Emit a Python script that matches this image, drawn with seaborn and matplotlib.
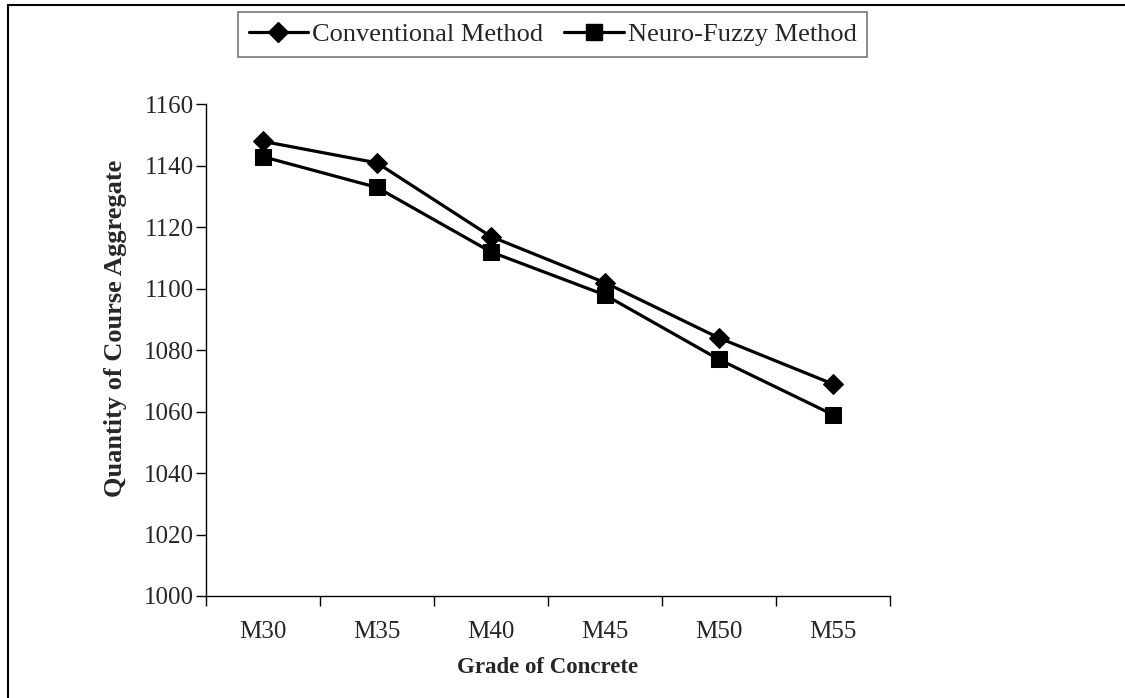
import matplotlib
matplotlib.use("Agg")
import matplotlib.pyplot as plt
import seaborn as sns
import pandas as pd
from matplotlib.lines import Line2D

grades = ["M30", "M35", "M40", "M45", "M50", "M55"]
conventional = [1148, 1141, 1117, 1102, 1084, 1069]
neuro_fuzzy = [1143, 1133, 1112, 1098, 1077, 1059]
series_names = ["Conventional Method", "Neuro-Fuzzy Method"]
y_ticks = [1000, 1020, 1040, 1060, 1080, 1100, 1120, 1140, 1160]

df = pd.DataFrame({
    "Grade": grades * 2,
    "Value": conventional + neuro_fuzzy,
    "Method": [series_names[0]] * len(grades) + [series_names[1]] * len(grades),
})
df["pos"] = [grades.index(g) for g in df["Grade"]]

sns.set_theme(style="white")
plt.rcParams["font.family"] = ["Liberation Serif", "DejaVu Serif"]

fig = plt.figure(figsize=(11.25, 6.98), dpi=100)
ax = fig.add_axes([206 / 1125, 1 - 596 / 698, (890 - 206) / 1125, (596 - 104.5) / 698])

sns.lineplot(data=df, x="pos", y="Value", hue="Method", style="Method",
             palette=["black", "black"], markers=["D", "s"], dashes=False,
             linewidth=2.3, markersize=11, markeredgecolor="black",
             ax=ax, legend=False)
for line, ms in zip(ax.lines, [10, 12]):
    line.set_markersize(ms)

ax.set_xlim(-0.5, len(grades) - 0.5)
ax.set_ylim(1000, 1160)
ax.set_yticks(y_ticks)
ax.set_yticklabels([str(v) for v in y_ticks], fontsize=18)
ax.set_xticks(range(len(grades)))
ax.set_xticklabels(grades, fontsize=18)
ax.set_xticks([i - 0.5 for i in range(len(grades) + 1)], minor=True)
ax.tick_params(axis="x", which="major", length=0, pad=18)
ax.tick_params(axis="x", which="minor", length=7, width=1, color="black", direction="out", bottom=True)
ax.tick_params(axis="y", which="major", length=7, width=1, color="black", direction="out", left=True, pad=2)

for s in ["top", "right"]:
    ax.spines[s].set_visible(False)
for s in ["left", "bottom"]:
    ax.spines[s].set_color("black")
    ax.spines[s].set_linewidth(1)

ax.set_xlabel("Grade of Concrete", fontsize=16.5, fontweight="bold", labelpad=10)
ax.set_ylabel("Quantity of Course Aggregate", fontsize=19, fontweight="bold")
ax.yaxis.set_label_coords(-0.1155, 0.545)

handles = [
    Line2D([], [], color="black", lw=2.3, marker="D", markersize=10),
    Line2D([], [], color="black", lw=2.3, marker="s", markersize=12),
]
leg = fig.legend(handles, series_names, loc="upper center", ncol=2,
                 bbox_to_anchor=(552.5 / 1125, 1 - 12 / 698), fontsize=19,
                 frameon=True, fancybox=False, edgecolor="#555555",
                 handlelength=2.25, handletextpad=0.15, columnspacing=0.8,
                 borderpad=0.4, borderaxespad=0)
leg.get_frame().set_linewidth(1.2)

fig.add_artist(Line2D([8 / 1125, 8 / 1125], [0, 1 - 5 / 698], color="black", lw=1.5, transform=fig.transFigure))
fig.add_artist(Line2D([8 / 1125, 1], [1 - 5 / 698, 1 - 5 / 698], color="black", lw=1.5, transform=fig.transFigure))

fig.savefig("out.png", dpi=100)
